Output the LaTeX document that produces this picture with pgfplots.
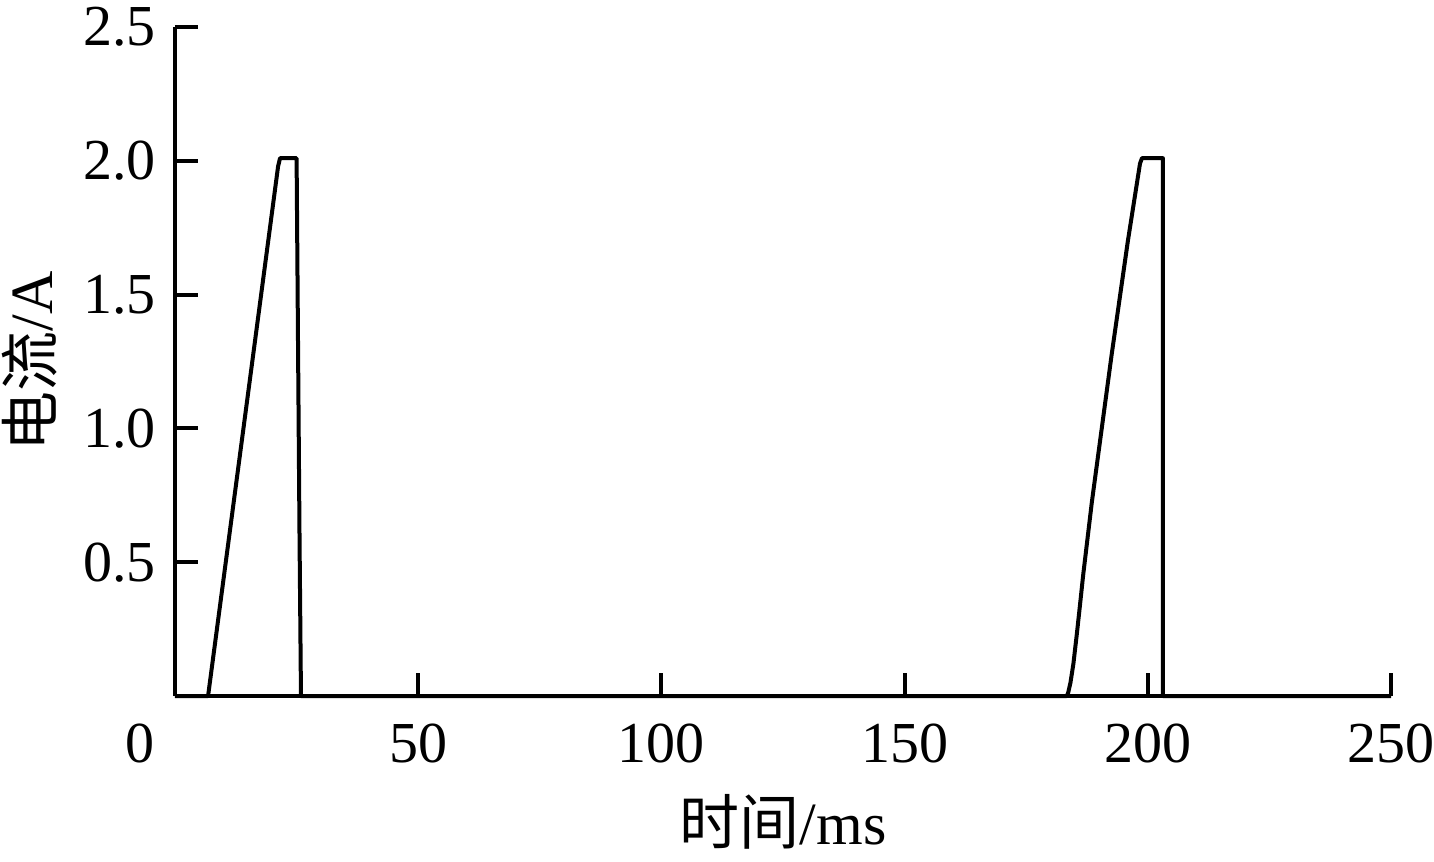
\documentclass[border=0pt]{standalone}
\usepackage{pgfplots}
\pgfplotsset{compat=1.18}
\usepackage{fontspec}
\setmainfont{Liberation Serif}
\newfontfamily\cjk{Noto Sans CJK SC}

\begin{document}
\fontsize{14}{16}\selectfont
\begin{tikzpicture}
% page = reference frame, 1px = 0.25pt, axis origin at (0,0)
\useasboundingbox (-43.75pt,-41.25pt) rectangle (314.75pt,174pt);
\begin{axis}[
  at={(0,0)}, anchor=south west,
  scale only axis, width=304pt, height=167.25pt,
  xmin=0, xmax=250, ymin=0, ymax=2.5,
  axis lines=left,
  axis line style={-, line width=1pt},
  tick align=inside,
  major tick length=5.75pt,
  tick style={line width=1pt, black},
  xtick={50,100,150,200,250},
  ytick={0.5,1,1.5,2,2.5},
  yticklabel style={/pgf/number format/.cd, fixed, fixed zerofill, precision=1},
  /pgf/number format/assume math mode=true,
  tick label style={font=\fontsize{14.5}{16}\selectfont},
  xticklabel style={yshift=-2pt},
  label style={font=\fontsize{15}{17}\selectfont},
  xlabel style={yshift=1.5pt},
  ylabel shift=-3pt,
  extra x ticks={0},
  extra x tick labels={0},
  extra x tick style={major tick length=0pt, xticklabel style={xshift=-8.75pt}},
  xlabel={{\cjk 时间}/ms},
  ylabel={{\cjk 电流}/A},
  clip=false,
]
\addplot[black, line width=1pt, line join=round] coordinates {
  (0,0) (6.8,0) (21.2,1.98) (21.6,2.01) (25.0,2.01) (25.3,1.3) (25.6,0.6) (25.9,0)
  (183.3,0) (183.6,0.01) (184.1,0.05) (184.7,0.12) (185.4,0.23) (186.0,0.33)
  (186.7,0.45) (188.5,0.725) (192.6,1.28) (195.9,1.70) (198.4,1.99) (198.8,2.01)
  (203.1,2.01) (203.1,0) (250,0)
};
\end{axis}
\end{tikzpicture}
\end{document}
